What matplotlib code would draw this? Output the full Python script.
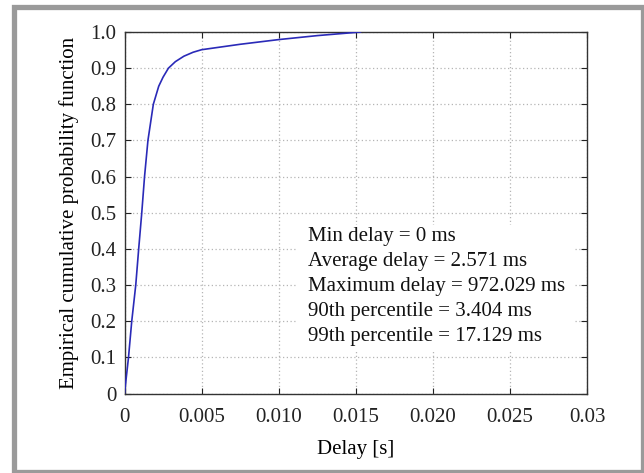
import matplotlib
matplotlib.use("Agg")
import matplotlib.pyplot as plt
from matplotlib.patches import Rectangle

# Empirical CDF of delay (seconds)
delay_s = [0.0, 0.00026, 0.00047, 0.00073, 0.00092, 0.00112, 0.00130, 0.00152,
           0.00187, 0.00222, 0.00250, 0.00285, 0.00330, 0.00385, 0.00445,
           0.00500, 0.00750, 0.01000, 0.01250, 0.01530]
cdf = [0.0, 0.1, 0.2, 0.3, 0.4, 0.5, 0.6, 0.7, 0.8, 0.85, 0.875, 0.9, 0.918,
       0.933, 0.944, 0.951, 0.966, 0.979, 0.99, 1.0]

x_ticks = [0, 0.005, 0.010, 0.015, 0.020, 0.025, 0.03]
x_tick_labels = ["0", "0.005", "0.010", "0.015", "0.020", "0.025", "0.03"]
y_ticks = [0, 0.1, 0.2, 0.3, 0.4, 0.5, 0.6, 0.7, 0.8, 0.9, 1.0]
y_tick_labels = ["0", "0.1", "0.2", "0.3", "0.4", "0.5", "0.6", "0.7", "0.8", "0.9", "1.0"]

stats_lines = [
    "Min delay = 0 ms",
    "Average delay = 2.571 ms",
    "Maximum delay = 972.029 ms",
    "90th percentile = 3.404 ms",
    "99th percentile = 17.129 ms",
]

plt.rcParams["font.family"] = ["Liberation Serif", "DejaVu Serif"]
FS = 15

W, H = 644, 473
fig = plt.figure(figsize=(W / 100, H / 100), dpi=100)
fig.patch.set_facecolor("white")

# outer grey frame
fig.patches.append(Rectangle((13.5 / W, 1.5 / H), (642.5 - 13.5) / W, (465.5 - 1.5) / H,
                             transform=fig.transFigure, fill=False,
                             edgecolor="#9a9a9a", linewidth=3.8))

left, right, top, bottom = 124.5, 587.0, 32.0, 393.5
ax = fig.add_axes([left / W, 1 - bottom / H, (right - left) / W, (bottom - top) / H])

ax.plot(delay_s, cdf, color="#2a2ab8", linewidth=1.2, zorder=3)

ax.set_xlim(0, 0.03)
ax.set_ylim(0, 1.0)
ax.set_xticks(x_ticks)
ax.set_xticklabels(x_tick_labels)
ax.set_yticks(y_ticks)
ax.set_yticklabels(y_tick_labels)
ax.tick_params(direction="in", length=4, width=0.8, top=True, right=True,
               labelsize=FS, colors="#222222")
ax.tick_params(axis="x", pad=10.5)
ax.tick_params(axis="y", pad=6)
ax.grid(True, color="#b5b5b5", linestyle=(0, (1, 2)), linewidth=0.9)
ax.set_axisbelow(True)
for s in ax.spines.values():
    s.set_color("#333333")
    s.set_linewidth(1.0)

ax.set_xlabel("Delay [s]", fontsize=FS, labelpad=9)
ax.set_ylabel("Empirical cumulative probability function", fontsize=FS, labelpad=8)

# white panel with summary statistics
ax.add_patch(Rectangle((0.01125, 0.12), 0.01785, 0.346, facecolor="white",
                       edgecolor="none", zorder=2))
y0 = 0.434
for i, line in enumerate(stats_lines):
    ax.text(0.0119, y0 - i * 0.069, line, fontsize=FS, va="center", ha="left",
            color="#111111", zorder=4)

fig.savefig("out.png", dpi=100, facecolor="white")
